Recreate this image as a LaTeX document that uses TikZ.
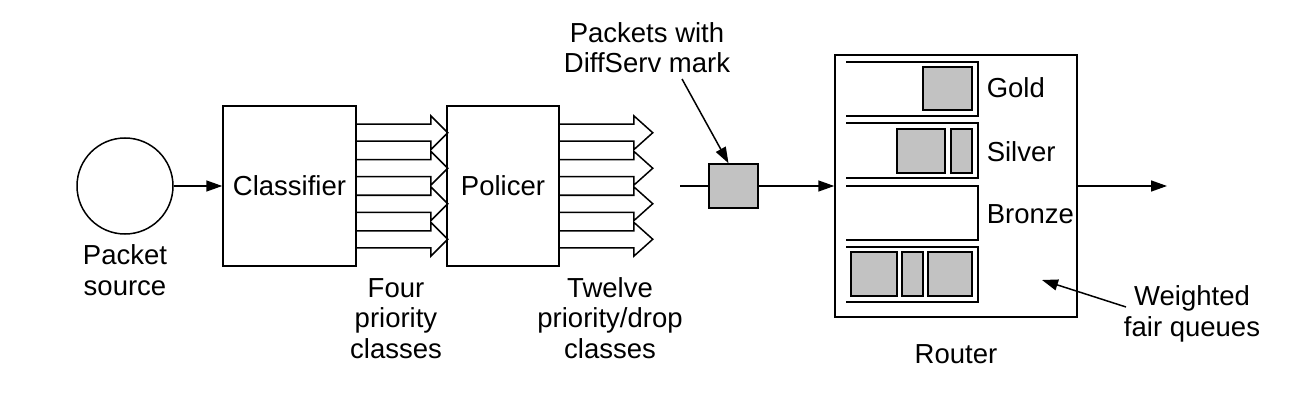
\documentclass[tikz,border=0pt]{standalone}
\usepackage{fontspec}
\setmainfont{Liberation Sans}
\usetikzlibrary{arrows.meta,calc}
\definecolor{pkfill}{gray}{0.76}
\begin{document}
\begin{tikzpicture}[x=1pt,y=-1pt,line width=1.5pt,
  txt/.style={font=\fontsize{27.5}{30.5}\selectfont,align=center,inner sep=0pt},
  blockbox/.style={draw,rectangle,inner sep=0pt,font=\fontsize{27.5}{30.5}\selectfont},
  arr/.style={-{Triangle[length=16pt,width=11pt]}},
  pkt/.style={draw,fill=pkfill,line width=1.5pt},
  queue/.style={draw,line width=1.5pt}]
\useasboundingbox (0,0) rectangle (1300,406);

% main nodes
\node[draw,circle,minimum size=96pt,inner sep=0pt] (src) at (125,186) {};
\node[blockbox,minimum width=133pt,minimum height=160pt] (cls) at (289.5,186) {Classifier};
\node[blockbox,minimum width=112pt,minimum height=160pt] (pol) at (503,186) {Policer};
\node[draw,fill=pkfill,minimum width=49pt,minimum height=44pt,inner sep=0pt] (mk) at (733.5,186) {};
\node[draw,minimum width=242pt,minimum height=262pt,inner sep=0pt] (rt) at (956,186) {};

% labels (anchor=base is the baseline of the last line)
\node[txt,anchor=base] (lsrc) at (125,295) {Packet\\source};
\node[txt,anchor=base] (lfour) at (396,358) {Four\\priority\\classes};
\node[txt,anchor=base] (ltw) at (610,358) {Twelve\\priority/drop\\classes};
\node[txt,anchor=base] (lmark) at (647,73) {Packets with\\DiffServ mark};
\node[txt,anchor=base] (lrt) at (956,363) {Router};
\node[txt,anchor=base] (lwfq) at (1192,336) {Weighted\\fair queues};
\node[txt,anchor=base west] (lgold) at (986,98) {Gold};
\node[txt,anchor=base west] (lsilver) at (986,162) {Silver};
\node[txt,anchor=base west] (lbronze) at (986,223) {Bronze};

% connectors
\draw[arr] (src) -- (cls);
\foreach \d in {-53.25,-17.75,17.75,53.25}{
  \draw ($(cls.east)+(0,\d-8.5)$) -- ++(74,0) -- ++(0,-8.5) -- ++(17,17) -- ++(-17,17) -- ++(0,-8.5) -- ++(-74,0);
  \draw ($(pol.east)+(0,\d-8.5)$) -- ++(74,0) -- ++(0,-8.5) -- ++(19,17) -- ++(-19,17) -- ++(0,-8.5) -- ++(-74,0);
}
\coordinate (mkin) at (680,186);
\draw (mkin) -- (mk);
\draw[arr] (mk) -- (rt.west);
\coordinate (markfrom) at (682,79);
\draw[arr] (markfrom) -- ($(mk.north)+(-5,0)$);
\coordinate (rtout) at (1167,186);
\draw[arr] (rt.east) -- (rtout);
\coordinate (wfqfrom) at (1126,307);
\coordinate (wfqto) at (1042,280);
\draw[arr] (wfqfrom) -- (wfqto);

% queues
\foreach \t/\b in {62/116,123/178,186/240,247/302}{
  \draw[queue] (846,\t) -- (978,\t) -- (978,\b) -- (846,\b);
}
% packets
\draw[pkt] (923,67) rectangle (972,110);
\draw[pkt] (897,129) rectangle (945,173);
\draw[pkt] (951,129) rectangle (972,173);
\draw[pkt] (851,252) rectangle (897,296);
\draw[pkt] (902,252) rectangle (923,296);
\draw[pkt] (928,252) rectangle (972,296);
\end{tikzpicture}
\end{document}
